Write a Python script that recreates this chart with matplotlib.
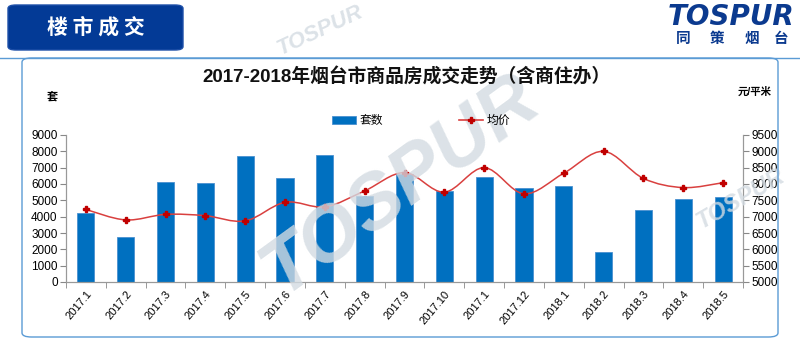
import matplotlib
matplotlib.use("Agg")
import matplotlib.pyplot as plt
from matplotlib.patches import FancyBboxPatch, PathPatch
from matplotlib.path import Path
import numpy as np

plt.rcParams['font.family'] = ['Liberation Sans', 'Noto Sans CJK SC', 'DejaVu Sans']

months = ['2017.1', '2017.2', '2017.3', '2017.4', '2017.5', '2017.6', '2017.7', '2017.8',
          '2017.9', '2017.10', '2017.1', '2017.12', '2018.1', '2018.2', '2018.3', '2018.4', '2018.5']
units = [4250, 2750, 6100, 6050, 7700, 6350, 7800, 5250,
         6600, 5550, 6450, 5750, 5900, 1850, 4400, 5100, 5200]
avg_price = [7220, 6900, 7070, 7030, 6870, 7440, 7300, 7790,
             8350, 7750, 8500, 7700, 8330, 9000, 8170, 7890, 8040]

BAR_BLUE = '#0070c0'
LINE_RED = '#d9403f'
MARK_RED = '#c00000'
FRAME_BLUE = '#5b9bd5'
NAVY = '#0b3a8f'
WATERMARK = '#d3dbe2'

fig = plt.figure(figsize=(8, 3.43), dpi=100)

# watermark text behind everything
for (x, y, s, rot) in [(0.50, 0.46, 56, 36), (0.40, 0.91, 16, 25), (0.925, 0.42, 17, 30)]:
    fig.text(x, y, 'TOSPUR', fontsize=s, fontweight='bold', fontstyle='italic',
             color=WATERMARK, alpha=0.8, rotation=rot, ha='center', va='center', zorder=0)

# header block
fig.patches.append(FancyBboxPatch((8 / 800, 1 - 50 / 343), 175 / 800, 45 / 343,
                                  boxstyle='round,pad=0,rounding_size=0.01',
                                  transform=fig.transFigure, facecolor='#033a96',
                                  edgecolor='#1d4fa8', zorder=1))
fig.text(96 / 800, 1 - 27 / 343, '楼 市 成 交', fontsize=15, fontweight='bold', color='white',
         ha='center', va='center', family=['Noto Sans CJK SC'])

# logo
fig.text(731 / 800, 1 - 17 / 343, 'TOSPUR', fontsize=20, fontweight='bold', fontstyle='italic',
         color=NAVY, ha='center', va='center', family=['DejaVu Sans'])
for cx, ch in zip([683, 717, 752, 781], '同策烟台'):
    fig.text(cx / 800, 1 - 38 / 343, ch, fontsize=10.5, fontweight='bold',
             color=NAVY, ha='center', va='center', family=['Noto Sans CJK SC'])

# header rule and chart frame
fig.add_artist(plt.Line2D([0, 1], [1 - 58 / 343, 1 - 58 / 343], color=FRAME_BLUE, lw=1.0,
                          transform=fig.transFigure))
fig.patches.append(FancyBboxPatch((22 / 800, 1 - 337 / 343), 756 / 800, 279 / 343,
                                  boxstyle='round,pad=0,rounding_size=0.012',
                                  transform=fig.transFigure, facecolor='none',
                                  edgecolor=FRAME_BLUE, lw=1.0))

fig.text(406 / 800, 1 - 77 / 343, '2017-2018年烟台市商品房成交走势（含商住办）', fontsize=13.5,
         fontweight='bold', ha='center', va='center', color='#111111')
fig.text(52 / 800, 1 - 96 / 343, '套', fontsize=8, fontweight='bold', ha='center', va='center')
fig.text(755 / 800, 1 - 92 / 343, '元/平米', fontsize=7.5, fontweight='bold', ha='center', va='center')

ax = fig.add_axes([66 / 800, 61 / 343, 677 / 800, 147 / 343])
ax.patch.set_alpha(0)
x = np.arange(len(months))
ax.bar(x, units, width=0.43, color=BAR_BLUE, edgecolor='#4a90d0', linewidth=0.6,
       label='套数', zorder=2)
ax.set_xlim(-0.5, len(months) - 0.5)
ax.set_ylim(0, 9000)
ax.set_yticks(np.arange(0, 9001, 1000))
ax.set_xticks(x)
ax.set_xticklabels(months, rotation=50, ha='right', rotation_mode='anchor', fontsize=8)
ax.set_xticks(np.arange(-0.5, len(months), 1), minor=True)
ax.tick_params(axis='x', which='major', length=0, pad=5)
ax.tick_params(axis='x', which='minor', length=4, color='#888888', direction='out')
ax.tick_params(axis='y', length=4, color='#888888', labelsize=8.5, pad=2)

ax2 = ax.twinx()
ax2.set_ylim(5000, 9500)
ax2.set_yticks(np.arange(5000, 9501, 500))
ax2.tick_params(axis='y', length=4, color='#888888', labelsize=8.5, pad=2)

# smooth curve through the monthly prices (Catmull-Rom as cubic Bezier segments)
pts = np.column_stack([x, avg_price]).astype(float)
ext = np.vstack([pts[0], pts, pts[-1]])
verts = [tuple(pts[0])]
codes = [Path.MOVETO]
for i in range(len(pts) - 1):
    p0, p1, p2, p3 = ext[i], ext[i + 1], ext[i + 2], ext[i + 3]
    c1 = p1 + (p2 - p0) / 6.0
    c2 = p2 - (p3 - p1) / 6.0
    verts += [tuple(c1), tuple(c2), tuple(p2)]
    codes += [Path.CURVE4] * 3
ax2.add_patch(PathPatch(Path(verts, codes), facecolor='none', edgecolor=LINE_RED, lw=1.1, zorder=3))
ax2.plot(x, avg_price, linestyle='none', marker='P', markersize=4.5, color=MARK_RED,
         zorder=4)

for a in (ax, ax2):
    a.spines['top'].set_visible(False)
    for s in ('left', 'right', 'bottom'):
        a.spines[s].set_color('#999999')

# legend entries
legend_line = plt.Line2D([], [], color=LINE_RED, lw=1.2, marker='P', markersize=4,
                         markerfacecolor=MARK_RED, markeredgecolor=MARK_RED)
handles, labels = ax.get_legend_handles_labels()
fig.legend(handles + [legend_line], labels + ['均价'], loc='center',
           bbox_to_anchor=(421 / 800, 1 - 121 / 343), ncol=2, frameon=False,
           fontsize=8.5, handlelength=2.0, handleheight=0.6, columnspacing=6.5,
           handletextpad=0.3)

fig.savefig('out.png', dpi=100)
